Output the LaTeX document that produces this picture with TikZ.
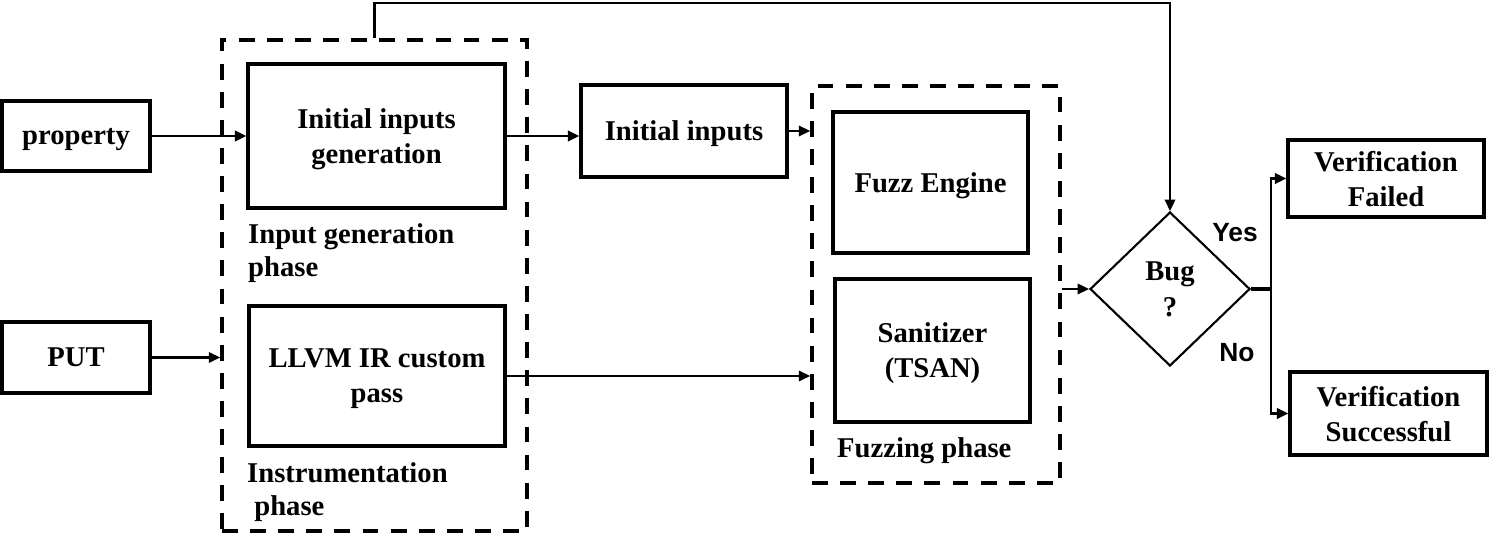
\documentclass[tikz,border=0pt]{standalone}
\usepackage{fontspec}
\setmainfont{Liberation Serif}
\newfontfamily\yesnofont{Liberation Sans}
\usetikzlibrary{arrows.meta,positioning,calc,shapes.geometric}

\begin{document}
\begin{tikzpicture}[
  x=0.02cm, y=-0.02cm,
  >={Triangle[length=6.5pt,width=6pt]},
  every node/.style={font=\fontsize{16.3}{20}\selectfont\bfseries},
  box/.style={draw, line width=1.9pt, align=center, inner sep=0pt, text depth=0pt},
  phasebox/.style={draw, line width=2.1pt, dash pattern=on 9pt off 7pt, inner sep=0pt},
  decide/.style={draw, diamond, line width=1.2pt, align=center, inner sep=0pt, text depth=0pt,
                 font=\fontsize{16.3}{20.5}\selectfont\bfseries},
  phaselbl/.style={align=left, anchor=west, font=\fontsize{16.3}{19}\selectfont\bfseries},
  flow/.style={->, line width=1.2pt},
]
\useasboundingbox (0,0) rectangle (1489,543);

% phases (dashed frames)
\node[phasebox, minimum width=6.10cm, minimum height=9.82cm] (ph1) at (374.5,285.5) {};
\node[phasebox, minimum width=4.96cm, minimum height=7.94cm] (ph2) at (936,284.5) {};

% inputs
\node[box, minimum width=2.96cm, minimum height=1.40cm] (prop) at (76,136) {property};
\node[box, minimum width=2.96cm, minimum height=1.42cm] (put) at (76,357.5) {PUT};

% blocks inside the phases
\node[box, minimum width=5.14cm, minimum height=2.88cm] (gen) at (376.5,136) {Initial inputs\\generation};
\node[box, minimum width=5.12cm, minimum height=2.80cm] (llvm) at (377,376) {LLVM IR custom\\pass};
\node[box, minimum width=4.12cm, minimum height=1.84cm] (init) at (684,131) {Initial inputs};
\node[box, minimum width=3.90cm, minimum height=2.82cm] (fuzz) at (930.5,182.5) {Fuzz Engine};
\node[box, minimum width=3.90cm, minimum height=2.86cm] (san) at (932.5,350.5) {Sanitizer\\(TSAN)};

\node[phaselbl] (genlbl) at (242,253) {Input generation\\phase};
\node[phaselbl] (inslbl) at (241,492) {Instrumentation\\\hspace{0.25em}phase};
\node[phaselbl] (fuzlbl) at (831,451) {Fuzzing phase};

% decision and results
\node[decide, minimum width=3.20cm, minimum height=3.08cm] (bug) at (1170,289) {Bug\\?};
\node[box, minimum width=3.92cm, minimum height=1.54cm] (fail) at (1386,178.5) {Verification\\Failed};
\node[box, minimum width=3.94cm, minimum height=1.66cm] (succ) at (1388.5,413.5) {Verification\\Successful};

\node[font=\yesnofont\fontsize{15}{18}\selectfont\bfseries] (yes) at (1235,233) {Yes};
\node[font=\yesnofont\fontsize{15}{18}\selectfont\bfseries] (no) at (1237,353) {No};

\draw[flow] (prop.east) -- (gen.west);
\draw[flow] (put.east) -- (put.east -| ph1.west);
\draw[flow] (gen.east) -- (gen.east -| init.west);
\draw[flow] (init.east) -- (init.east -| ph2.west);
\draw[flow] (llvm.east) -- (llvm.east -| ph2.west);
\draw[flow] (bug.west -| ph2.east) -- (bug.west);
\draw[flow] (ph1.north) -- ++(0,-35) -| (bug.north);

\draw[line width=2.2pt] (bug.east) -- ++(20,0) coordinate (split);
\draw[flow] (split) |- (fail.west);
\draw[flow] (split) |- (succ.west);
\end{tikzpicture}
\end{document}
